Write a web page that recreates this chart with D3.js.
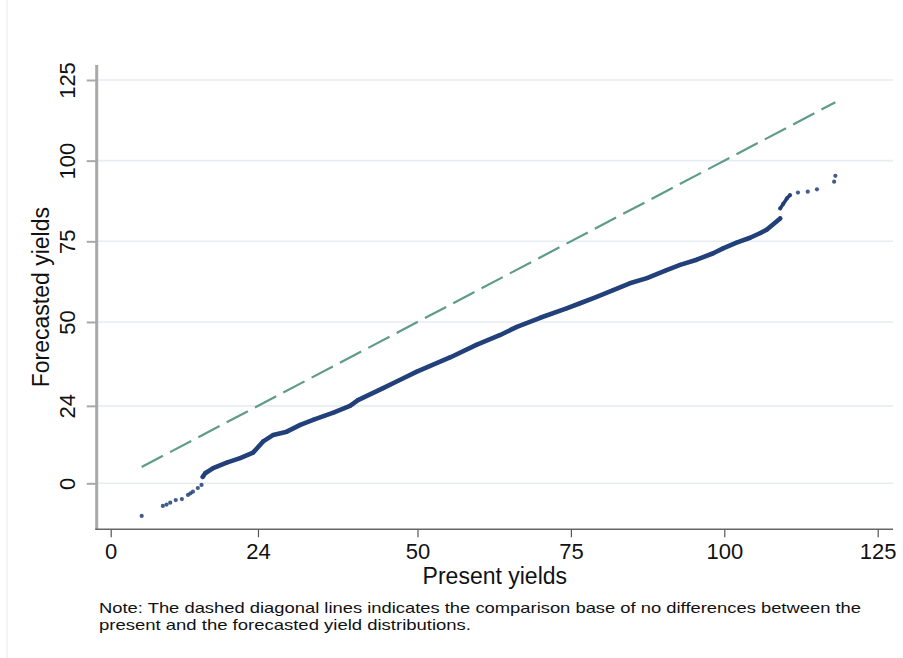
<!DOCTYPE html>
<html>
<head>
<meta charset="utf-8">
<script src="https://cdn.jsdelivr.net/npm/d3@7"></script>
<style>
  html, body { margin: 0; padding: 0; background: #fff; }
  svg { display: block; }
  text { font-family: "Liberation Sans", Arial, Helvetica, sans-serif; fill: #111; }
</style>
</head>
<body>
<svg id="chart" width="903" height="658"></svg>
<script>
// ── Data (quantile pairs) ────────────────────────────────────────────────

const xTicks = [0, 24, 50, 75, 100, 125];
const yTicks = [0, 24, 50, 75, 100, 125];

// dense body of the Q-Q plot: present-yield quantile vs forecasted-yield quantile
const bodyPresent  = [15.0, 15.4, 16.7, 18.9, 21.1, 23.2, 24.8, 26.5, 28.7, 30.9, 33.2, 36.3, 39.0, 40.3, 44.4, 47.1, 49.9, 55.3, 59.6, 63.4, 66.2, 70.0, 74.3, 76.5, 79.2, 81.9, 84.6, 87.4, 90.6, 92.8, 95.5, 98.2, 99.8, 102.0, 104.2, 105.8, 106.9, 109.1];
const bodyForecast = [2.0, 3.1, 4.7, 6.4, 7.8, 9.5, 12.9, 15.0, 16.0, 18.1, 19.8, 21.9, 24.0, 25.8, 29.5, 32.0, 34.6, 39.0, 42.9, 45.9, 48.5, 51.3, 54.2, 55.8, 57.8, 59.9, 62.0, 63.6, 66.1, 67.7, 69.3, 71.3, 72.8, 74.6, 76.1, 77.5, 78.6, 82.1];

// upper jump cluster
const upperPresent  = [109.1, 109.6, 110.2, 110.7];
const upperForecast = [85.2, 86.6, 88.3, 89.3];

// sparse tails
const tailPresent  = [5.05, 8.5, 9.1, 9.7, 10.6, 11.6, 12.6, 13.0, 13.4, 14.2, 14.8, 112.0, 113.6, 115.1, 117.9, 118.1];
const tailForecast = [-10.1, -7.0, -6.6, -6.0, -5.2, -4.9, -3.6, -3.1, -2.6, -1.45, -0.5, 90.1, 90.4, 91.1, 93.5, 95.3];

// 45° reference line (equal quantiles)
const refLine = [5.05, 118.1];

const xTitle = "Present yields";
const yTitle = "Forecasted yields";
const noteLines = [
  "Note: The dashed diagonal lines indicates the comparison base of no differences between the",
  "present and the forecasted yield distributions."
];

// ── Layout ───────────────────────────────────────────────────────────────

const NAVY = "#22407a";
const REF_GREEN = "#5f9c86";
const GRID = "#e7edf4";

const plotLeft = 96.7, plotRight = 893, plotBottom = 529.3, plotTop = 65;

const x = d3.scaleLinear().domain([0, 125]).range([110.7, 877.7]);
const y = d3.scaleLinear().domain([0, 125]).range([483.3, 80]);

const svg = d3.select("#chart");

// faint graph-region border
svg.append("line")
  .attr("x1", 7).attr("x2", 7).attr("y1", 0).attr("y2", 658)
  .attr("stroke", "#eef1f7").attr("stroke-width", 1.5);

// ── Grid ────────────────────────────────────────────────────────────────

svg.append("g")
  .selectAll("line")
  .data(yTicks)
  .enter().append("line")
  .attr("x1", plotLeft).attr("x2", plotRight)
  .attr("y1", d => y(d)).attr("y2", d => y(d))
  .attr("stroke", GRID).attr("stroke-width", 1.6);

// ── Axes ────────────────────────────────────────────────────────────────

// y axis (left), thick grey Stata-style line
const yAxis = svg.append("g").attr("transform", `translate(${plotLeft},0)`)
  .call(d3.axisLeft(y).tickValues(yTicks).tickSize(10).tickPadding(0).tickFormat(d3.format("d")));
yAxis.select(".domain").remove();
yAxis.selectAll(".tick line").attr("stroke", "#a9a9a9").attr("stroke-width", 2);
yAxis.selectAll(".tick text")
  .attr("transform", "rotate(-90)")
  .attr("x", 0).attr("y", -22).attr("dy", 0)
  .attr("text-anchor", "middle")
  .style("font-size", "22px").style("fill", "#111");
yAxis.append("line")
  .attr("x1", 0).attr("x2", 0).attr("y1", plotTop).attr("y2", plotBottom)
  .attr("stroke", "#a9a9a9").attr("stroke-width", 3);

// x axis (bottom)
const xAxis = svg.append("g").attr("transform", `translate(0,${plotBottom})`)
  .call(d3.axisBottom(x).tickValues(xTicks).tickSize(8).tickPadding(6).tickFormat(d3.format("d")));
xAxis.select(".domain").remove();
xAxis.selectAll(".tick line").attr("stroke", "#555").attr("stroke-width", 1.2);
xAxis.selectAll(".tick text")
  .attr("y", 30).attr("dy", 0)
  .style("font-size", "22px").style("fill", "#111");
xAxis.append("line")
  .attr("x1", plotLeft - 1.5).attr("x2", plotRight).attr("y1", 0).attr("y2", 0)
  .attr("stroke", "#666").attr("stroke-width", 1.5);

// axis titles
svg.append("text")
  .attr("x", (plotLeft + plotRight) / 2).attr("y", 584)
  .attr("text-anchor", "middle")
  .style("font-size", "23px")
  .text(xTitle);

svg.append("text")
  .attr("transform", `translate(49,${(plotTop + plotBottom) / 2}) rotate(-90)`)
  .attr("text-anchor", "middle")
  .style("font-size", "23px")
  .text(yTitle);

// ── Marks ───────────────────────────────────────────────────────────────

// reference line
svg.append("line")
  .attr("x1", x(refLine[0])).attr("y1", y(refLine[0]))
  .attr("x2", x(refLine[1])).attr("y2", y(refLine[1]))
  .attr("stroke", REF_GREEN).attr("stroke-width", 2.2)
  .attr("stroke-dasharray", "24,8");

const zip = (xs, ys) => xs.map((v, i) => [v, ys[i]]);
const body = zip(bodyPresent, bodyForecast);
const upper = zip(upperPresent, upperForecast);
const tails = zip(tailPresent, tailForecast);

const lineGen = d3.line().x(d => x(d[0])).y(d => y(d[1]));

// dense quantile run reads as a thick band of overlapping markers
svg.append("path")
  .attr("d", lineGen(body))
  .attr("fill", "none")
  .attr("stroke", NAVY).attr("stroke-width", 4.6)
  .attr("stroke-linejoin", "round").attr("stroke-linecap", "round");

svg.append("path")
  .attr("d", lineGen(upper))
  .attr("fill", "none")
  .attr("stroke", NAVY).attr("stroke-width", 3.5)
  .attr("stroke-linecap", "round");

svg.append("g")
  .selectAll("circle")
  .data(body.concat(upper, tails))
  .enter().append("circle")
  .attr("cx", d => x(d[0])).attr("cy", d => y(d[1]))
  .attr("r", 2.1)
  .attr("fill", NAVY).attr("fill-opacity", 0.85);

// ── Note ────────────────────────────────────────────────────────────────

const noteWidths = [762, 372];
svg.append("g")
  .selectAll("text")
  .data(noteLines)
  .enter().append("text")
  .attr("x", 99).attr("y", (d, i) => 613 + i * 17)
  .attr("textLength", (d, i) => noteWidths[i])
  .attr("lengthAdjust", "spacingAndGlyphs")
  .style("font-size", "15px")
  .text(d => d);
</script>
</body>
</html>
